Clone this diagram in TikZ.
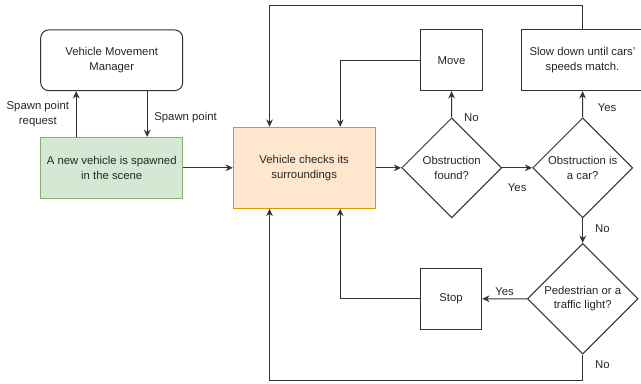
\documentclass[tikz,border=0pt]{standalone}
\usepackage{fontspec}
\setmainfont{Liberation Sans}
\usetikzlibrary{arrows.meta,shapes.geometric,positioning}
\definecolor{greenfill}{HTML}{D5E8D4}
\definecolor{greenline}{HTML}{82B366}
\definecolor{orangefill}{HTML}{FFE6CC}
\definecolor{orangeline}{HTML}{D79B00}
\tikzset{box/.style={rectangle, draw=black!80, line width=0.75pt, fill=white, align=center, inner sep=2pt, minimum height=45.5pt},
  decision/.style={diamond, draw=black!80, line width=0.75pt, fill=white, align=center, inner sep=0pt, aspect=1},
  flow/.style={draw=black!80, line width=0.75pt, -{Stealth[length=5.5pt,width=5pt]}},
  lbl/.style={inner sep=1pt, align=center}}

\begin{document}
\begin{tikzpicture}[x=0.75pt,y=-0.75pt,every node/.style={font=\fontsize{8.5}{11}\selectfont, text=black!85}]
	\useasboundingbox (0,0) rectangle (641,383);
	% spawning
	\node[box, rounded corners=6pt, minimum width=106.5pt] (manager) at (111.7,60.3) {Vehicle Movement\\Manager};
	\node[box, fill=greenfill, draw=greenline, minimum width=106.5pt] (spawned) at (111.7,167.8) {A new vehicle is spawned\\in the scene};
	\node[box, fill=orangefill, draw=orangeline, minimum width=106.3pt, minimum height=60.75pt] (checks) at (304.2,167.8) {Vehicle checks its\\surroundings};
	% decisions
	\node[decision, minimum size=75pt] (found) at (451.7,167.8) {Obstruction\\found?};
	\node[decision, minimum size=75pt] (iscar) at (582.7,167.8) {Obstruction is\\a car?};
	\node[decision, minimum size=83pt] (pedlight) at (582.7,298.7) {Pedestrian or a\\traffic light?};
	% actions
	\node[box, minimum width=46pt] (move) at (451.5,60.3) {Move};
	\node[box, minimum width=92pt] (slow) at (582.5,60.3) {Slow down until cars'\\speeds match.};
	\node[box, minimum width=46pt] (stop) at (451,298.8) {Stop};

	\draw[flow] ([xshift=27pt]spawned.north west) -- node[lbl, midway, left=4pt]{Spawn point\\request} ([xshift=27pt]manager.south west);
	\draw[flow] ([xshift=-27pt]manager.south east) -- node[lbl, pos=0.58, right=4pt]{Spawn point} ([xshift=-27pt]spawned.north east);
	\draw[flow] (spawned) -- (checks);
	\draw[flow] (checks) -- (found);
	\draw[flow] (found) -- node[lbl, midway, yshift=-15pt]{Yes} (iscar);
	\draw[flow] (found) -- node[lbl, pos=0, right=8pt]{No} (move);
	\draw[flow] (iscar) -- node[lbl, pos=0.38, right=10pt]{Yes} (slow);
	\draw[flow] (iscar) -- node[lbl, pos=0.44, right=8pt]{No} (pedlight);
	\draw[flow] (pedlight) -- node[lbl, midway, above=1pt]{Yes} (stop);
	% loops back
	\draw[flow] (move) -| ([xshift=27pt]checks.north);
	\draw[flow] (stop) -| ([xshift=27pt]checks.south);
	\draw[flow] (slow.north) -- ++(0,-24) -| ([xshift=-26pt]checks.north);
	\draw[flow] (pedlight.south) -- node[lbl, pos=0.38, right=8pt]{No} ++(0,26) -| ([xshift=-26pt]checks.south);
\end{tikzpicture}
\end{document}
